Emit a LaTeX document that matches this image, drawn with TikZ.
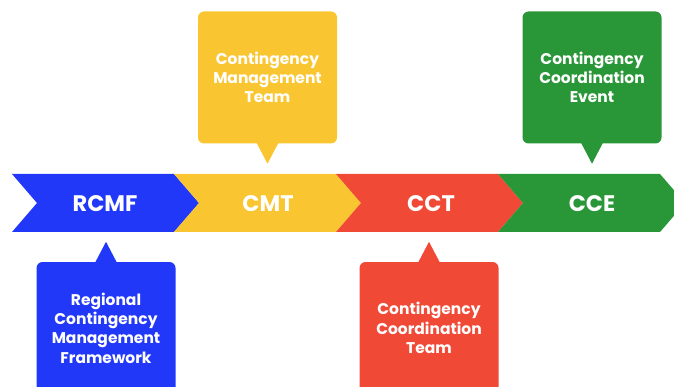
\documentclass[tikz,border=0pt]{standalone}
\usepackage{fontspec}
\setmainfont{Poppins}
\usetikzlibrary{positioning}
\usetikzlibrary{calc}

\definecolor{rcmfblue}{RGB}{34,56,248}
\definecolor{cmtyellow}{RGB}{249,198,50}
\definecolor{cctred}{RGB}{240,73,54}
\definecolor{ccegreen}{RGB}{41,150,55}

% one arrow segment of the band, starting at x = #1
\newcommand{\chevron}[2]{%
  \fill[#2] (#1,174) -- ++(162,0) -- ++(25,29) -- ++(-25,29) -- ++(-162,0) -- ++(25,-29) -- cycle;}

\begin{document}
\begin{tikzpicture}[x=1pt,y=-1pt,font=\bfseries]
	\tikzstyle{phase}=[text=white,font=\fontsize{22.5}{26}\selectfont\bfseries]
	\tikzstyle{callout}=[rectangle,rounded corners=6pt,minimum width=139pt,minimum height=132pt,
						text=white,align=center,font=\fontsize{15.5}{19.3}\selectfont\bfseries]
	\useasboundingbox (0,0) rectangle (674,387);
	
	\chevron{12}{rcmfblue}
	\chevron{174}{cmtyellow}
	\chevron{336}{cctred}
	\chevron{498}{ccegreen}
	
	\node[phase] (RCMF) at (105,204) {RCMF};
	\node[phase] (CMT)  at (268,204) {CMT};
	\node[phase] (CCT)  at (431,204) {CCT};
	\node[phase] (CCE)  at (592,204) {CCE};
	
	\node[callout,fill=cmtyellow] (CMT_box) at (267.5,77.5) {Contingency\\Management\\Team};
	\node[callout,fill=ccegreen]  (CCE_box) at (592,77.5)   {Contingency\\Coordination\\Event};
	\node[callout,fill=rcmfblue]  (RCMF_box) at (106,328)   {Regional\\Contingency\\Management\\Framework};
	\node[callout,fill=cctred]    (CCT_box) at (429,328)    {Contingency\\Coordination\\Team};
	
	% pointers from the boxes to the band
	\fill[cmtyellow] ($(CMT_box.south)+(-11pt,1pt)$) -- ($(CMT_box.south)+(0,-20pt)$) -- ($(CMT_box.south)+(11pt,1pt)$) -- cycle;
	\fill[ccegreen] ($(CCE_box.south)+(-11pt,1pt)$) -- ($(CCE_box.south)+(0,-20pt)$) -- ($(CCE_box.south)+(11pt,1pt)$) -- cycle;
	\fill[rcmfblue] ($(RCMF_box.north)+(-11pt,-1pt)$) -- ($(RCMF_box.north)+(0,20pt)$) -- ($(RCMF_box.north)+(11pt,-1pt)$) -- cycle;
	\fill[cctred] ($(CCT_box.north)+(-11pt,-1pt)$) -- ($(CCT_box.north)+(0,20pt)$) -- ($(CCT_box.north)+(11pt,-1pt)$) -- cycle;
\end{tikzpicture}
\end{document}
